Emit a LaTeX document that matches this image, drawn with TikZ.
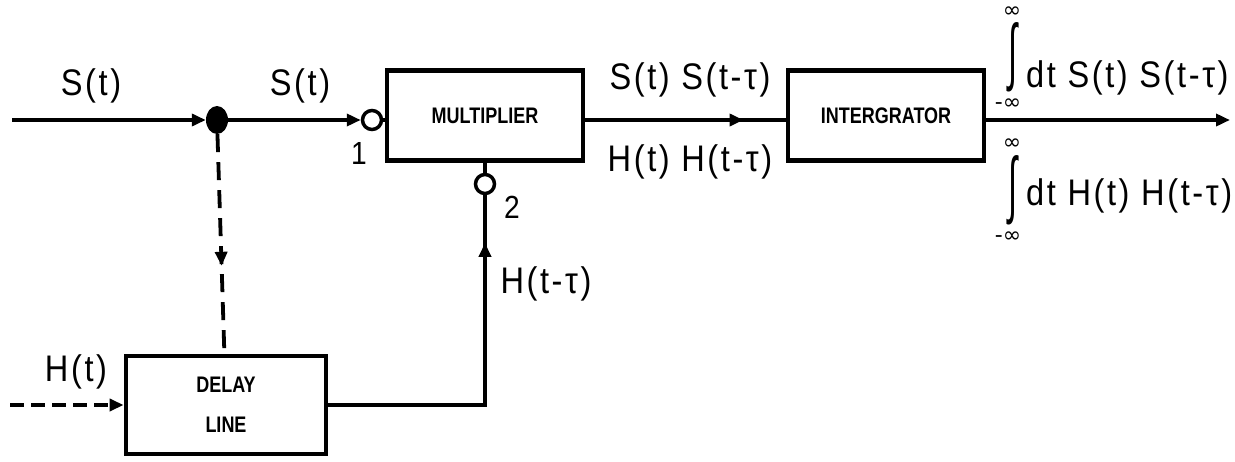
\documentclass[tikz,border=0pt]{standalone}
\usepackage{fontspec}
\setmainfont{Liberation Sans}
\newfontfamily\lab[LetterSpace=7,FakeStretch=0.88]{Liberation Sans}
\newfontfamily\blab[FakeStretch=0.8]{Liberation Sans}
\newfontfamily\inffont{DejaVu Sans}
\usetikzlibrary{arrows.meta,decorations.markings,shapes.geometric}
\begin{document}
\begin{tikzpicture}[x=1pt,y=-1pt,
  wire/.style={line width=3.8pt},
  blk/.style={draw,line width=4.8pt,minimum width=196pt,minimum height=90pt,inner sep=0pt,align=center,font=\blab\bfseries\fontsize{22.5}{40}\selectfont},
  txt/.style={font=\lab\fontsize{37}{40}\selectfont,inner sep=0pt},
  num/.style={font=\lab\fontsize{32}{34}\selectfont,inner sep=0pt},
  inf/.style={font=\inffont\fontsize{22}{22}\selectfont,inner sep=0pt},
  intg/.style={inner sep=0pt,font=\fontsize{30}{30}\selectfont},
  tip/.style={-{Triangle[length=14pt,width=12pt]}},
  midarrow/.style={postaction={decorate},decoration={markings,mark=at position #1 with {\arrow[solid]{Triangle[length=14pt,width=12pt]}}}},
  port/.style={circle,draw,line width=3.5pt,minimum size=19pt,inner sep=0pt,fill=white},
  junc/.style={ellipse,fill,minimum width=22pt,minimum height=28pt,inner sep=0pt}]
\useasboundingbox (0,0) rectangle (1235,461);
% blocks
\node[blk] (mult) at (485,115.5) {MULTIPLIER};
\node[blk] (integ) at (886,115.5) {INTERGRATOR};
\node[blk,minimum width=200pt,minimum height=98pt] (delay) at (226,405) {DELAY\\LINE};
% ports and junction
\node[junc] (dot) at (217,120) {};
\node[port] (p1) at (372,120) {};
\node[port] (p2) at (485,184) {};
\coordinate (in) at (12,120);
\coordinate (hin) at (10,405);
\coordinate (out) at (1230,120);
% connectors
\draw[wire,tip] (in) -- (dot);
\draw[wire,tip] (dot) -- (p1);
\draw[wire] (p1) -- (mult.west |- p1);
\draw[wire,midarrow=0.79] (mult.east |- p1) -- (integ.west |- p1);
\draw[wire,tip] (integ.east |- p1) -- (out);
\draw[wire,dash pattern=on 18pt off 10pt,midarrow=0.6] (dot) -- (delay);
\draw[wire,dash pattern=on 14pt off 7pt,tip] (hin) -- (delay);
\draw[wire,midarrow=0.87] (delay.east) -| (p2);
\draw[wire] (p2) -- (mult);
% labels
\node[txt] (ls1) at (91,86) {S(t)};
\node[txt] (ls2) at (300,86) {S(t)};
\node[num] (n1) at (359,153) {1};
\node[num] (n2) at (512,207) {2};
\node[txt] (lht) at (76,372) {H(t)};
\node[txt] (lhd) at (546,284) {H(t-τ)};
\node[txt] (lss) at (690,80) {S(t) S(t-τ)};
\node[txt] (lhh) at (690,162) {H(t) H(t-τ)};
% outputs
\node[inf] (i1t) at (1012,12) {∞};
\node[intg] (i1) at (1013,57) {\resizebox{9pt}{54pt}{∫}};
\node[inf] (i1b) at (1008,104) {-∞};
\node[txt,anchor=west] (o1) at (1026,78) {dt S(t) S(t-τ)};
\node[inf] (i2t) at (1012,144) {∞};
\node[intg] (i2) at (1013,190) {\resizebox{9pt}{54pt}{∫}};
\node[inf] (i2b) at (1008,237) {-∞};
\node[txt,anchor=west] (o2) at (1026,196) {dt H(t) H(t-τ)};
\end{tikzpicture}
\end{document}
